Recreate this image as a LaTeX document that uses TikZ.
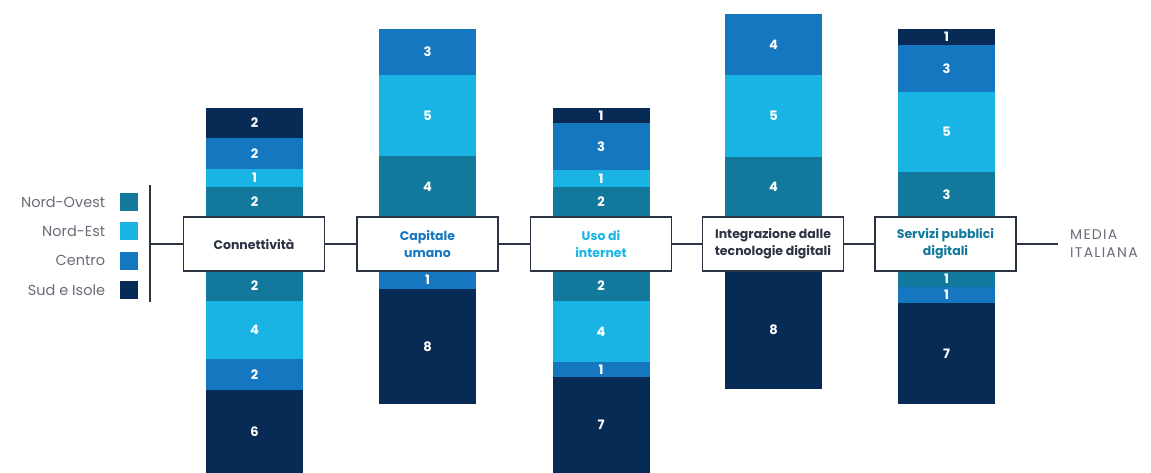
\documentclass[tikz,border=0pt]{standalone}
\usepackage{fontspec}
\setmainfont{Poppins}
\usepackage{tikz}
\usepackage{xcolor}
\usetikzlibrary{positioning}
\definecolor{nordovest}{HTML}{12789C}
\definecolor{nordest}{HTML}{19B4E4}
\definecolor{centro}{HTML}{1577BF}
\definecolor{sudisole}{HTML}{072B55}
\definecolor{frame}{HTML}{2C3443}
\definecolor{greytext}{HTML}{676C76}
\tikzstyle{seg} = [rectangle, minimum width=97pt, inner sep=0pt, text=white, font=\bfseries\fontsize{13}{13}\selectfont]
\tikzstyle{pillar} = [rectangle, draw=frame, line width=1.7pt, fill=white, minimum width=141pt, minimum height=54pt, inner sep=2pt, align=center, font=\bfseries\fontsize{12.5}{17}\selectfont]
\tikzstyle{legkey} = [rectangle, minimum size=18pt, inner sep=0pt]
\tikzstyle{legtext} = [text=greytext, inner sep=0pt, font=\fontsize{14.5}{15}\selectfont]
\tikzstyle{link} = [draw=frame, line width=1.7pt]

\begin{document}
\begin{tikzpicture}[x=1pt,y=-1pt]
  \useasboundingbox (0,0) rectangle (1151,473);
  % Connettivita
  \node[seg, fill=sudisole, minimum height=30pt] (c1) at (254.5,123) {2};
  \node[seg, fill=centro, minimum height=31pt] (c2) at (254.5,153.5) {2};
  \node[seg, fill=nordest, minimum height=18pt] (c3) at (254.5,178) {1};
  \node[seg, fill=nordovest, minimum height=30pt] (c4) at (254.5,202) {2};
  \node[seg, fill=nordovest, minimum height=30pt] (c5) at (254.5,286) {2};
  \node[seg, fill=nordest, minimum height=58pt] (c6) at (254.5,330) {4};
  \node[seg, fill=centro, minimum height=31pt] (c7) at (254.5,374.5) {2};
  \node[seg, fill=sudisole, minimum height=83pt] (c8) at (254.5,431.5) {6};
  % Capitale umano
  \node[seg, fill=centro, minimum height=46pt] (h1) at (427.5,52) {3};
  \node[seg, fill=nordest, minimum height=81pt] (h2) at (427.5,115.5) {5};
  \node[seg, fill=nordovest, minimum height=61pt] (h3) at (427.5,186.5) {4};
  \node[seg, fill=centro, minimum height=18pt] (h4) at (427.5,280) {1};
  \node[seg, fill=sudisole, minimum height=115pt] (h5) at (427.5,346.5) {8};
  % Uso di internet
  \node[seg, fill=sudisole, minimum height=15pt] (u1) at (601,115.5) {1};
  \node[seg, fill=centro, minimum height=47pt] (u2) at (601,146.5) {3};
  \node[seg, fill=nordest, minimum height=17pt] (u3) at (601,178.5) {1};
  \node[seg, fill=nordovest, minimum height=30pt] (u4) at (601,202) {2};
  \node[seg, fill=nordovest, minimum height=30pt] (u5) at (601,286) {2};
  \node[seg, fill=nordest, minimum height=61pt] (u6) at (601,331.5) {4};
  \node[seg, fill=centro, minimum height=15pt] (u7) at (601,369.5) {1};
  \node[seg, fill=sudisole, minimum height=96pt] (u8) at (601,425) {7};
  % Integrazione
  \node[seg, fill=centro, minimum height=61pt] (i1) at (773.5,44.5) {4};
  \node[seg, fill=nordest, minimum height=82pt] (i2) at (773.5,116) {5};
  \node[seg, fill=nordovest, minimum height=60pt] (i3) at (773.5,187) {4};
  \node[seg, fill=sudisole, minimum height=118pt] (i4) at (773.5,330) {8};
  % Servizi pubblici
  \node[seg, fill=sudisole, minimum height=16pt] (s1) at (946.5,37) {1};
  \node[seg, fill=centro, minimum height=47pt] (s2) at (946.5,68.5) {3};
  \node[seg, fill=nordest, minimum height=80pt] (s3) at (946.5,132) {5};
  \node[seg, fill=nordovest, minimum height=45pt] (s4) at (946.5,194.5) {3};
  \node[seg, fill=nordovest, minimum height=16pt] (s5) at (946.5,279) {1};
  \node[seg, fill=centro, minimum height=16pt] (s6) at (946.5,295) {1};
  \node[seg, fill=sudisole, minimum height=101pt] (s7) at (946.5,353.5) {7};

  \node[pillar, text=frame] (conn) at (254,244) {Connettività};
  \node[pillar, text=centro] (cap) at (427.5,244) {Capitale\\umano};
  \node[pillar, text=nordest] (uso) at (601,244) {Uso di\\internet};
  \node[pillar, text=frame] (integ) at (773,244) {Integrazione dalle\\tecnologie digitali};
  \node[pillar, text=nordovest] (serv) at (945.5,244) {Servizi pubblici\\digitali};

  % legenda
  \node[legkey, fill=nordovest] (kNO) at (128.5,202) {};
  \node[legkey, fill=nordest] (kNE) [below=11pt of kNO] {};
  \node[legkey, fill=centro] (kC) [below=11pt of kNE] {};
  \node[legkey, fill=sudisole] (kS) [below=11pt of kC] {};
  \node[legtext] (tNO) [left=14pt of kNO] {Nord-Ovest};
  \node[legtext] (tNE) [left=14pt of kNE] {Nord-Est};
  \node[legtext] (tC) [left=14pt of kC] {Centro};
  \node[legtext] (tS) [left=14pt of kS] {Sud e Isole};
  \coordinate (legtop) at (150,185);
  \coordinate (legbot) at (150,302);
  \coordinate (spine) at (150,244);
  \coordinate (mediaend) at (1058,244);
  \node[legtext, anchor=west, align=left, font=\fontsize{14}{18}\selectfont\addfontfeatures{LetterSpace=9}] (media) at (1070,244) {MEDIA\\ITALIANA};

  \path[link] (legtop) edge (legbot);
  \path[link] (spine) edge (conn);
  \path[link] (conn) edge (cap);
  \path[link] (cap) edge (uso);
  \path[link] (uso) edge (integ);
  \path[link] (integ) edge (serv);
  \path[link] (serv) edge (mediaend);
\end{tikzpicture}
\end{document}
